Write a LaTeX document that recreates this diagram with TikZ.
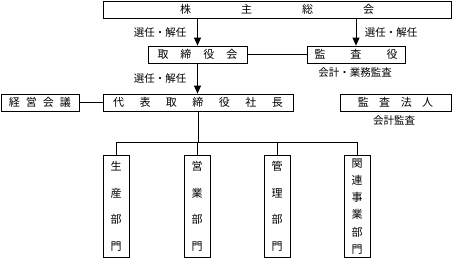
\documentclass[tikz,border=0pt]{standalone}
\usepackage{fontspec}
\setmainfont{Noto Sans CJK JP}
\usetikzlibrary{arrows.meta}
\begin{document}
\begin{tikzpicture}[x=1pt,y=-1pt,
  box/.style={draw,line width=0.8pt,inner sep=0pt,minimum height=17pt,font=\fontsize{11}{12}\selectfont},
  vbox/.style={draw,line width=0.8pt,inner sep=0pt,anchor=north,minimum width=26pt,minimum height=102pt,align=center,font=\fontsize{11}{12}\selectfont},
  lbl/.style={inner sep=0pt,font=\fontsize{10.5}{12}\selectfont},
  conn/.style={line width=0.8pt},
  arr/.style={line width=0.8pt,-{Triangle[length=8pt,width=7pt]}}]
\path[use as bounding box,fill=white] (0,0) rectangle (452,258);
\node[box,minimum width=348pt] (top) at (277,9.5) {株\hspace{50pt}主\hspace{50pt}総\hspace{50pt}会};
\node[box,minimum width=99pt] (trb) at (197.5,54.5) {取\hspace{12pt}締\hspace{12pt}役\hspace{12pt}会};
\node[box,minimum width=98pt] (kansa) at (356,54.5) {監\hspace{25pt}査\hspace{25pt}役};
\node[box,minimum width=78pt] (keiei) at (40,102.5) {経\hspace{6pt}営\hspace{6pt}会\hspace{6pt}議};
\node[box,minimum width=190pt] (ceo) at (198,102.5) {代\hspace{15.5pt}表\hspace{15.5pt}取\hspace{15.5pt}締\hspace{15.5pt}役\hspace{15.5pt}社\hspace{15.5pt}長};
\node[box,minimum width=111pt] (houjin) at (395.5,102.5) {監\hspace{10.5pt}査\hspace{10.5pt}法\hspace{10.5pt}人};
\node[lbl] (l1) at (160,33) {選任・解任};
\node[lbl] (l2) at (391,33) {選任・解任};
\node[lbl] (l3) at (160,79) {選任・解任};
\node[lbl] (l4) at (355,73) {会計・業務監査};
\node[lbl] (l5) at (394,121) {会計監査};
\node[vbox] (c1) at (116,155) {生\\[14.7pt]産\\[14.7pt]部\\[14.7pt]門};
\node[vbox] (c2) at (197,155) {営\\[14.7pt]業\\[14.7pt]部\\[14.7pt]門};
\node[vbox] (c3) at (277,155) {管\\[14.7pt]理\\[14.7pt]部\\[14.7pt]門};
\node[vbox] (c4) at (357,155) {関\\[5.2pt]連\\[5.2pt]事\\[5.2pt]業\\[5.2pt]部\\[5.2pt]門};
\coordinate (bus) at (0,142);
\draw[arr] (trb.north |- top.south) -- (trb.north);
\draw[arr] (kansa.north |- top.south) -- (kansa.north);
\draw[arr] (trb.south) -- (trb.south |- ceo.north);
\draw[conn] (trb.east) -- (kansa.west);
\draw[conn] (keiei.east) -- (ceo.west);
\draw[conn] (ceo.south) -- (ceo.south |- bus);
\draw[conn] (c1.north) -- (c1.north |- bus) -| (c4.north);
\draw[conn] (c2.north) -- (c2.north |- bus);
\draw[conn] (c3.north) -- (c3.north |- bus);
\end{tikzpicture}
\end{document}
